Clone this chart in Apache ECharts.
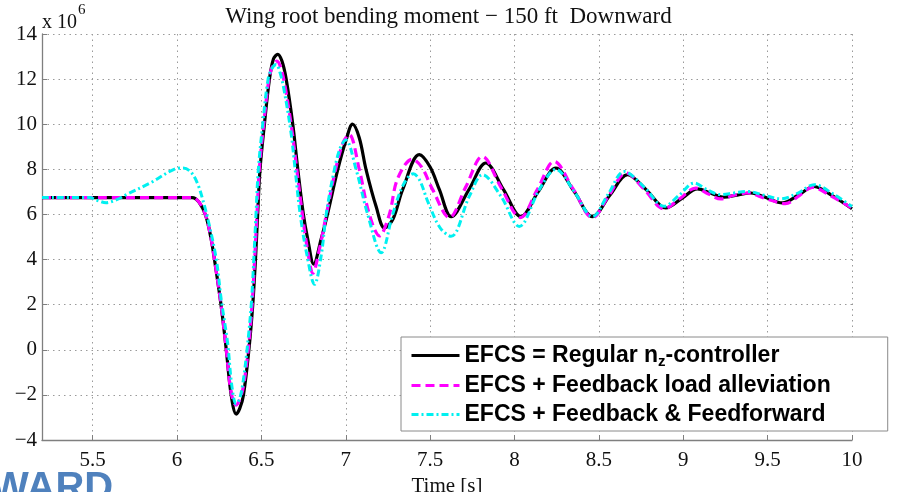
<!DOCTYPE html>
<html>
<head>
<meta charset="utf-8">
<script src="https://cdn.jsdelivr.net/npm/echarts/dist/echarts.min.js"></script>
<style>
html,body{margin:0;padding:0;background:#fff;}
#chart{width:897px;height:492px;}
</style>
</head>
<body>
<div id="chart"></div>
<script>
// ---- data (time [s], bending moment [x 1e6]) ----
const seriesNames = [
  'EFCS = Regular n_z-controller',
  'EFCS + Feedback load alleviation',
  'EFCS + Feedback & Feedforward'
];
const regular = [
  [5.2,6.75],[6.09,6.75],[6.13,6.55],[6.17,5.95],[6.2,5.0],[6.222,4.0],[6.262,1.93],[6.292,0],
  [6.321,-2.0],[6.351,-2.85],[6.372,-2.6],[6.394,-2.0],[6.426,0],[6.449,2.0],[6.465,4.0],[6.478,6.0],
  [6.492,8.0],[6.518,10.0],[6.548,12.0],[6.572,12.9],[6.597,13.1],[6.622,12.8],[6.647,12.0],[6.686,10.0],
  [6.716,8.0],[6.749,6.0],[6.775,4.9],[6.81,3.8],[6.854,4.9],[6.893,6.05],[6.953,8.0],[7.002,9.3],
  [7.04,10.0],[7.08,9.4],[7.12,8.0],[7.18,6.35],[7.23,5.4],[7.28,5.8],[7.337,7.1],[7.436,8.65],
  [7.50,8.1],[7.555,7.1],[7.625,5.9],[7.73,7.1],[7.83,8.28],[7.935,7.1],[8.038,5.9],[8.14,7.0],
  [8.245,8.06],[8.355,7.0],[8.462,5.9],[8.565,6.85],[8.67,7.76],[8.78,7.1],[8.897,6.29],[8.99,6.7],
  [9.084,7.13],[9.16,6.95],[9.242,6.77],[9.32,6.86],[9.40,6.95],[9.49,6.75],[9.587,6.51],[9.68,6.85],
  [9.775,7.24],[9.89,6.8],[10.0,6.25]
];
const feedback = [
  [5.2,6.75],[6.09,6.75],[6.13,6.55],[6.17,5.95],[6.2,5.0],[6.222,4.0],[6.262,1.93],[6.292,0],
  [6.321,-1.9],[6.35,-2.45],[6.372,-2.2],[6.394,-1.6],[6.422,0],[6.445,2.0],[6.46,4.0],[6.474,6.0],
  [6.488,8.0],[6.514,10.0],[6.545,12.0],[6.57,12.65],[6.592,12.8],[6.615,12.5],[6.64,11.7],[6.68,9.8],
  [6.71,8.0],[6.743,6.0],[6.77,4.6],[6.805,3.4],[6.845,4.5],[6.885,6.0],[6.94,8.0],[6.985,9.2],
  [7.02,9.55],[7.08,8.0],[7.14,6.0],[7.2,5.05],[7.258,6.0],[7.308,7.6],[7.395,8.45],[7.45,8.1],
  [7.515,7.1],[7.614,5.86],[7.71,7.2],[7.81,8.57],[7.92,7.2],[8.035,5.86],[8.135,7.1],[8.235,8.35],
  [8.35,7.1],[8.462,5.86],[8.56,6.85],[8.66,7.84],[8.77,7.1],[8.886,6.25],[8.98,6.7],[9.074,7.17],
  [9.15,6.9],[9.223,6.69],[9.30,6.85],[9.38,6.95],[9.49,6.7],[9.605,6.48],[9.69,6.85],[9.765,7.2],
  [9.88,6.8],[10.0,6.28]
];
const feedforward = [
  [5.2,6.75],[5.48,6.75],[5.53,6.62],[5.58,6.52],[5.64,6.65],[5.70,6.88],[5.84,7.39],[5.976,7.98],
  [6.035,8.06],[6.08,7.9],[6.12,7.4],[6.153,6.65],[6.193,5.47],[6.233,4.0],[6.262,2.23],[6.30,0.3],
  [6.325,-1.6],[6.35,-2.4],[6.37,-2.2],[6.39,-1.5],[6.415,0],[6.44,2.0],[6.455,4.0],[6.468,6.0],
  [6.482,8.0],[6.508,10.0],[6.54,12.0],[6.565,12.5],[6.588,12.65],[6.61,12.3],[6.635,11.5],[6.676,9.6],
  [6.70,8.0],[6.73,6.0],[6.77,4.2],[6.815,2.9],[6.855,4.2],[6.884,6.0],[6.933,8.0],[6.97,9.0],
  [7.0,9.3],[7.061,8.0],[7.13,6.0],[7.21,4.3],[7.278,6.0],[7.34,7.3],[7.40,7.8],[7.436,7.55],
  [7.49,6.5],[7.56,5.4],[7.624,5.03],[7.732,6.8],[7.811,7.76],[7.92,6.8],[8.028,5.47],[8.147,7.1],
  [8.245,8.0],[8.355,7.0],[8.462,5.9],[8.555,6.9],[8.65,7.9],[8.77,7.2],[8.886,6.36],[8.975,6.85],
  [9.065,7.39],[9.14,7.1],[9.22,6.88],[9.30,6.95],[9.38,7.02],[9.48,6.85],[9.578,6.69],[9.68,6.95],
  [9.775,7.32],[9.89,6.9],[10.0,6.35]
];
const xMin = 5.2, xMax = 10, yMin = -4, yMax = 14, yStep = 2;

// ---- chart ----
const chart = echarts.init(document.getElementById('chart'), null, {renderer: 'canvas'});
const serif = '"Liberation Serif", "Times New Roman", serif';
const sans = '"Liberation Sans", Arial, sans-serif';
const axisGray = '#7f7f7f';
const gridLine = {show: true, lineStyle: {color: '#9a9a9a', type: [1.5, 4], width: 1}};

const option = {
  backgroundColor: '#ffffff',
  animation: false,
  title: {
    text: 'Wing root bending moment \u2212 150 ft  Downward',
    left: 'center', top: 0,
    textStyle: {fontFamily: serif, fontWeight: 'normal', fontSize: 23, color: '#111'}
  },
  grid: {left: 42, right: 45, top: 34, bottom: 52, containLabel: false, outerBoundsMode: 'none'},
  xAxis: {
    type: 'value', min: xMin, max: xMax, splitNumber: 10,
    name: 'Time [s]', nameLocation: 'middle', nameGap: 30,
    nameTextStyle: {fontFamily: serif, fontSize: 21, color: '#111'},
    axisLine: {show: true, onZero: false, lineStyle: {color: axisGray, width: 1.3}},
    axisTick: {show: true, inside: true, length: 5, lineStyle: {color: axisGray}},
    axisLabel: {fontFamily: serif, fontSize: 21, color: '#111', margin: 10, showMinLabel: false,
      formatter: v => String(v)},
    splitLine: gridLine
  },
  yAxis: {
    type: 'value', min: yMin, max: yMax, interval: yStep,
    axisLine: {show: true, onZero: false, lineStyle: {color: axisGray, width: 1.3}},
    axisTick: {show: true, inside: true, length: 5, lineStyle: {color: axisGray}},
    axisLabel: {fontFamily: serif, fontSize: 21, color: '#111', margin: 5,
      formatter: v => String(v).replace('-', '\u2212')},
    splitLine: gridLine
  },
  legend: {
    orient: 'vertical', left: 401, top: 337,
    backgroundColor: '#fff', borderColor: '#8a8a8a', borderWidth: 1,
    padding: [5, 57, 4, 9], itemGap: 4, itemWidth: 48, itemHeight: 14,
    itemStyle: {opacity: 0},
    lineStyle: {width: 3},
    data: seriesNames,
    formatter: function (name) {
      if (name.indexOf('n_z') >= 0) {
        const parts = name.split('n_z');
        return '{t|' + parts[0] + 'n}{s|z}{t|' + parts[1] + '}';
      }
      return '{t|' + name + '}';
    },
    textStyle: {
      fontFamily: sans, fontWeight: 'bold', fontSize: 23, color: '#000', lineHeight: 25,
      rich: {
        t: {fontFamily: sans, fontWeight: 'bold', fontSize: 23, color: '#000', lineHeight: 25},
        s: {fontFamily: sans, fontWeight: 'bold', fontSize: 15, color: '#000', lineHeight: 25, padding: [12, 0, 0, 0]}
      }
    }
  },
  graphic: [
    {
      type: 'text', left: 42, top: 3, silent: true,
      style: {
        text: '{a|x 10}{b|6}',
        rich: {
          a: {fontFamily: serif, fontSize: 20, fill: '#111', lineHeight: 30, verticalAlign: 'bottom'},
          b: {fontFamily: serif, fontSize: 15, fill: '#111', lineHeight: 12, verticalAlign: 'top', padding: [0, 0, 0, 1]}
        }
      }
    },
    {
      type: 'text', left: -9, top: 469, silent: true,
      style: {text: 'WARD', fontFamily: sans, fontWeight: 'bold', fontSize: 40, fill: '#4f81bd'}
    }
  ],
  series: [
    {name: seriesNames[0], type: 'line', data: regular, symbol: 'none', smooth: 0.35, z: 3,
      lineStyle: {color: '#000000', width: 3.2, type: 'solid'}, itemStyle: {color: '#000000'}},
    {name: seriesNames[1], type: 'line', data: feedback, symbol: 'none', smooth: 0.35, z: 4,
      lineStyle: {color: '#ff00ff', width: 3.2, type: [9, 5]}, itemStyle: {color: '#ff00ff'}},
    {name: seriesNames[2], type: 'line', data: feedforward, symbol: 'none', smooth: 0.35, z: 5,
      lineStyle: {color: '#00f0f0', width: 3, type: [7, 3, 2, 3]}, itemStyle: {color: '#00f0f0'}}
  ]
};
chart.setOption(option);
</script>
</body>
</html>
